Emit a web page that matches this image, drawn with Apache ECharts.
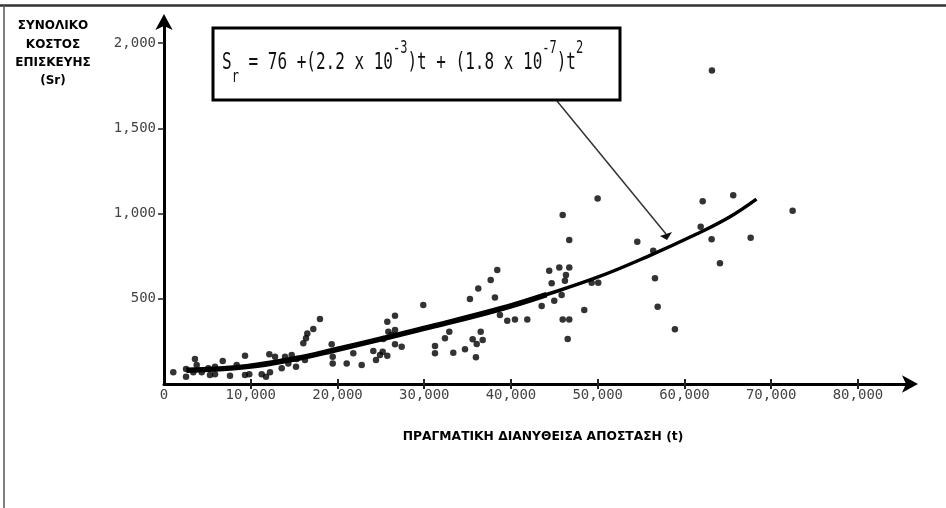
<!DOCTYPE html>
<html>
<head>
<meta charset="utf-8">
<script src="https://cdn.jsdelivr.net/npm/echarts@6/dist/echarts.min.js"></script>
<style>
html, body {margin:0; padding:0; background:#fff;}
#chart {width:946px; height:508px;}
</style>
</head>
<body>
<div id="chart"></div>
<script>
// distance t (km) and repair cost Sr
var distT = [1070,2540,2540,3570,3770,3380,4350,5110,5300,5880,5880,6770,7610,8380,9340,9340,9830,11260,11760,12220,
	12140,12800,13570,13950,14330,14720,15220,15300,16060,16370,16520,17210,17980,16250,19330,19450,19450,21060,21820,22790,
	24130,24440,24900,25210,25740,25280,25860,26250,26630,25740,26630,26630,27400,29890,31240,31240,32390,32890,33350,34700,
	35270,35580,36050,35960,36230,36510,36740,37660,38150,38420,38730,39570,40460,41880,43540,44410,44690,44990,45570,45960,
	45960,46220,46340,46720,46720,46720,46540,45840,48450,49300,50060,49990,54560,56400,56600,56910,58900,62100,61870,63130,
	64090,65620,67630,72470,63170];
var costS = [69,43,88,147,111,69,69,92,53,57,101,135,49,111,166,53,57,57,43,69,
	174,160,92,160,121,170,101,147,239,268,297,323,381,141,233,160,121,121,180,111,
	194,141,170,189,166,264,307,287,317,365,401,233,219,463,223,180,268,307,184,204,
	499,262,235,157,561,307,258,610,508,669,405,371,379,379,457,664,591,489,684,991,
	379,606,639,684,845,379,264,522,434,594,594,1089,835,782,620,453,321,1073,923,849,
	708,1108,858,1016,1840];

// fitted curve
var fitT = [2600,9500,15300,19300,25300,30700,38700,44100,49900,55600,61400,65200,68300];
var fitS = [80,102,150,195,268,335,440,525,625,745,880,980,1085];

var xTicks = [0,10000,20000,30000,40000,50000,60000,70000,80000];
var yTicks = [500,1000,1500,2000];

var points = [];
for (var i = 0; i < distT.length; i++) {
	points.push([distT[i], costS[i]]);
}
var fitAll = [], fitThick = [];
for (var j = 0; j < fitT.length; j++) {
	fitAll.push([fitT[j], fitS[j]]);
	if (fitT[j] <= 44100) fitThick.push([fitT[j], fitS[j]]);
}

function fmt(v){
	return v.toLocaleString('en-US');
}

var monoFont = '"DejaVu Sans Mono", monospace';
var titleFont = '"DejaVu Sans", sans-serif';

var chart = echarts.init(document.getElementById('chart'));
chart.setOption({
	animation: false,
	backgroundColor: '#fff',
	grid: {
		left: 164,
		right: 36,
		top: 21,
		bottom: 124
	},
	xAxis: [{
		type: 'value',
		min: 0,
		max: 86000,
		interval: 10000,
		splitLine: {show: false},
		axisLine: {
			onZero: false,
			symbol: ['none', 'arrow'],
			symbolSize: [13, 16],
			symbolOffset: [0, 8],
			lineStyle: {color: '#000', width: 3}
		},
		axisTick: {
			customValues: xTicks.slice(1),
			length: 5,
			lineStyle: {color: '#222', width: 2}
		},
		axisLabel: {
			customValues: xTicks,
			formatter: fmt,
			margin: 4,
			color: '#444',
			fontFamily: monoFont,
			fontSize: 14
		}
	}, {
		// upper half of the crossing ticks
		type: 'value',
		position: 'bottom',
		min: 0,
		max: 86000,
		interval: 10000,
		splitLine: {show: false},
		axisLine: {show: false, onZero: false},
		axisTick: {
			inside: true,
			customValues: xTicks.slice(1),
			length: 5,
			lineStyle: {color: '#222', width: 2}
		},
		axisLabel: {show: false}
	}],
	yAxis: {
		type: 'value',
		min: 0,
		max: 2130,
		interval: 500,
		splitLine: {show: false},
		axisLine: {
			onZero: false,
			symbol: ['none', 'arrow'],
			symbolSize: [13, 16],
			symbolOffset: [0, 7],
			lineStyle: {color: '#000', width: 3}
		},
		axisTick: {
			customValues: yTicks,
			length: 6,
			lineStyle: {color: '#222', width: 1.5}
		},
		axisLabel: {
			customValues: yTicks,
			formatter: fmt,
			margin: 8,
			color: '#444',
			fontFamily: monoFont,
			fontSize: 14
		}
	},
	series: [
		{
			name: 'data',
			type: 'scatter',
			symbolSize: 6.5,
			itemStyle: {color: '#000'},
			data: points,
			z: 3
		},
		{
			name: 'fit',
			type: 'line',
			smooth: 0.4,
			showSymbol: false,
			lineStyle: {color: '#000', width: 3.5},
			data: fitAll,
			z: 4
		},
		{
			name: 'fitThick',
			type: 'line',
			smooth: 0.4,
			showSymbol: false,
			lineStyle: {color: '#000', width: 5.5},
			data: fitThick,
			z: 4
		}
	],
	graphic: [
		// frame of the scan
		{type: 'line', shape: {x1: 0, y1: 5.5, x2: 946, y2: 5.5}, style: {stroke: '#333', lineWidth: 2.5}},
		{type: 'line', shape: {x1: 4, y1: 5, x2: 4, y2: 508}, style: {stroke: '#555', lineWidth: 1.5}},
		// y axis title
		{
			type: 'text', x: 53, y: 17,
			style: {
				text: 'ΣΥΝΟΛΙΚΟ\nΚΟΣΤΟΣ\nΕΠΙΣΚΕΥΗΣ\n(Sr)',
				fontFamily: titleFont, fontWeight: 'bold', fontSize: 12,
				lineHeight: 18.3, align: 'center', verticalAlign: 'top', fill: '#000'
			}
		},
		// x axis title
		{
			type: 'text', x: 543, y: 437,
			style: {
				text: 'ΠΡΑΓΜΑΤΙΚΗ ΔΙΑΝΥΘΕΙΣΑ ΑΠΟΣΤΑΣΗ (t)',
				fontFamily: titleFont, fontWeight: 'bold', fontSize: 12.3,
				align: 'center', verticalAlign: 'middle', fill: '#000'
			}
		},
		// equation box
		{
			type: 'rect', shape: {x: 213, y: 28, width: 407, height: 72},
			style: {fill: '#fff', stroke: '#000', lineWidth: 3}, z: 10
		},
		{
			type: 'text', x: 222, y: 63, scaleY: 1.45, z: 11,
			style: {
				text: 'S{sub|r} = 76 +(2.2 x 10{sup|-3})t + (1.8 x 10{sup|-7})t{sup|2}',
				fontFamily: monoFont, fontSize: 16, fill: '#111',
				verticalAlign: 'middle', lineHeight: 32,
				rich: {
					sub: {fontFamily: monoFont, fontSize: 12, fill: '#111', verticalAlign: 'bottom', lineHeight: 32},
					sup: {fontFamily: monoFont, fontSize: 12, fill: '#111', verticalAlign: 'top', lineHeight: 30}
				}
			}
		},
		// pointer from the equation to the curve
		{type: 'line', shape: {x1: 557, y1: 101, x2: 666, y2: 234}, style: {stroke: '#333', lineWidth: 1.5}, z: 9},
		{type: 'polygon', shape: {points: [[660, 236], [672, 232], [667, 240]]}, style: {fill: '#111'}, z: 9}
	]
});
</script>
</body>
</html>
